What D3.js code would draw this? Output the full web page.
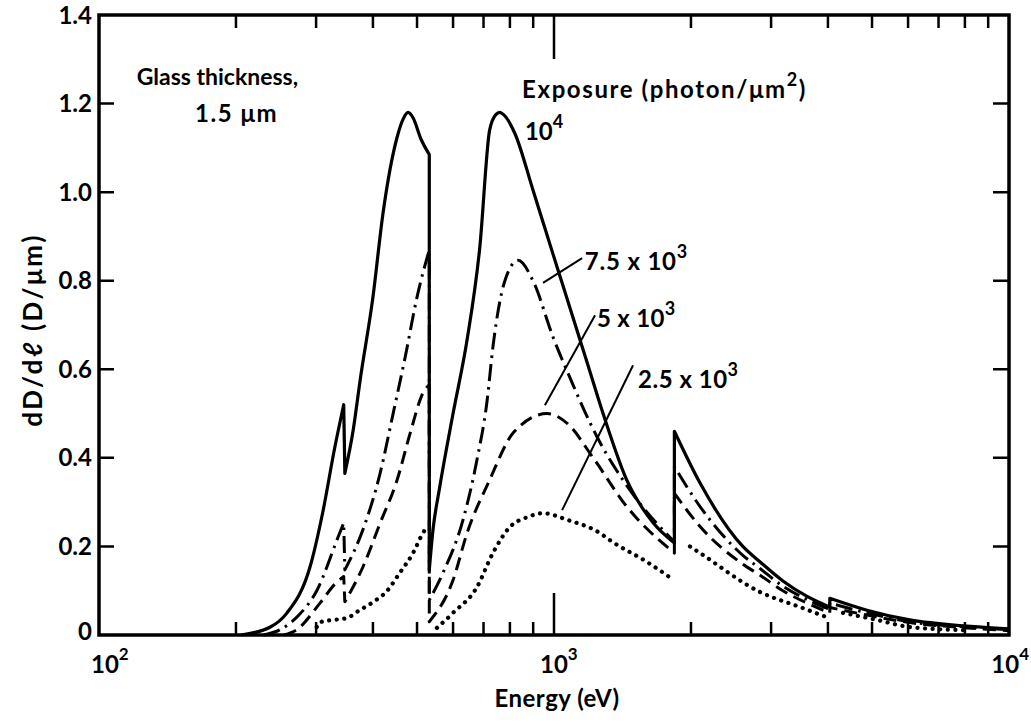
<!DOCTYPE html>
<html lang="en-US">
<head>
<meta charset="utf-8">
<script src="https://d3js.org/d3.v7.min.js"></script>
<style>
  body { margin: 0; background: #fff; }
  svg text { font-family: Lato, "DejaVu Sans", sans-serif; font-weight: bold; fill: #000; }
</style>
</head>
<body>
<svg width="1031" height="725"></svg>
<script>
// dD/dl vs photon energy (eV); each series split into segments at the absorption edges
// [energy eV, dD/dl]
var exp1e4 = [
  [[205,0],[238,0.018],[259,0.05],[291,0.154],[310,0.275],[330,0.425],[345,0.52]],
  [[347,0.365],[362,0.463],[375,0.576],[400,0.763],[421,0.953],[452,1.124],[466,1.165],[478,1.18],[490,1.168],[510,1.12],[532,1.085]],
  [[532,0.147],[542,0.237],[560,0.33],[600,0.5],[644,0.666],[687,0.876],[722,1.14],[745,1.175],[760,1.18],[775,1.175],[820,1.133],[899,1.005],[995,0.86],[1042,0.795],[1182,0.616],[1282,0.5],[1445,0.35],[1653,0.253],[1839,0.208]],
  [[1839,0.46],[2094,0.343],[2600,0.2],[2838,0.165],[3185,0.122],[3600,0.087],[4038,0.063]],
  [[4038,0.083],[4875,0.056],[6050,0.034],[8080,0.02],[10000,0.014]]
];
var exp75e3 = [
  [[230,0],[250,0.012],[275,0.045],[301,0.1],[335,0.22],[345,0.253]],
  [[347,0.147],[380,0.237],[415,0.366],[443,0.5],[471,0.628],[500,0.763],[532,0.87]],
  [[532,0.079],[570,0.14],[631,0.26],[677,0.395],[713,0.53],[734,0.65],[780,0.8],[834,0.846],[899,0.8],[995,0.673],[1101,0.565],[1199,0.48],[1244,0.447],[1469,0.327],[1839,0.21]],
  [[1839,0.38],[2094,0.29],[2600,0.18],[2838,0.15],[3185,0.11],[3600,0.08],[4038,0.058]],
  [[4038,0.072],[4875,0.05],[6050,0.03],[8080,0.018],[10000,0.012]]
];
var exp5e3 = [
  [[255,0],[272,0.012],[306,0.072],[330,0.115],[345,0.132]],
  [[347,0.075],[380,0.153],[415,0.253],[452,0.35],[483,0.456],[515,0.546],[532,0.565]],
  [[532,0.03],[600,0.124],[644,0.23],[722,0.35],[813,0.456],[966,0.5],[1069,0.478],[1219,0.4],[1445,0.29],[1839,0.185]],
  [[1839,0.32],[2094,0.245],[2600,0.16],[2838,0.135],[3185,0.1],[3600,0.072],[4038,0.05]],
  [[4038,0.062],[4875,0.045],[6050,0.028],[8080,0.016],[10000,0.01]]
];
var exp25e3 = [
  [[301,0.018],[306,0.029],[327,0.034],[350,0.038],[374,0.056],[400,0.074],[430,0.1],[458,0.14],[490,0.185],[515,0.23],[529,0.248]],
  [[553,0.016],[600,0.05],[677,0.108],[734,0.185],[800,0.244],[873,0.266],[946,0.275],[1069,0.26],[1262,0.23],[1327,0.214],[1600,0.165],[1799,0.13]],
  [[1990,0.2],[2094,0.185],[2838,0.097],[3474,0.063],[3981,0.04]],
  [[4316,0.05],[5130,0.034],[6050,0.018],[7925,0.011]]
];

var xMinor = [200,300,400,500,600,700,800,900,2000,3000,4000,5000,6000,7000,8000,9000];
var xMajor = [100,1000,10000];
var yTicks = [0,0.2,0.4,0.6,0.8,1.0,1.2,1.4];
var yInner = [0.2,0.4,0.6,0.8,1.0,1.2];

var svg = d3.select("svg");
var x = d3.scaleLog().domain([100,10000]).range([99,1009]);
var y = d3.scaleLinear().domain([0,1.4]).range([635,15]);
var x0 = x.range()[0], x1 = x.range()[1], y0 = y.range()[0], y1 = y.range()[1];

// inward ticks on all four sides, as one path
var tickPath = [];
xMinor.forEach(v => { tickPath.push("M" + x(v) + "," + y0 + "v-13", "M" + x(v) + "," + y1 + "v13"); });
tickPath.push("M" + x(1000) + "," + y0 + "v-42", "M" + x(1000) + "," + y1 + "v44");
yInner.forEach(v => { tickPath.push("M" + x0 + "," + y(v) + "h15", "M" + x1 + "," + y(v) + "h-16"); });
svg.append("path").attr("d", tickPath.join(""))
    .attr("fill","none").attr("stroke","#000").attr("stroke-width",2.5);

// y tick labels
svg.append("g").selectAll("text").data(yTicks).enter().append("text")
    .attr("x", x0 - 7).attr("y", d => y(d)).attr("dy", d => d === 0 ? "0.2em" : "0.36em")
    .attr("text-anchor","end").attr("font-size",24)
    .text(d => d === 0 ? "0" : d.toFixed(1));

// frame
svg.append("rect").attr("x",x0).attr("y",y1).attr("width",x1 - x0).attr("height",y0 - y1)
    .attr("fill","none").attr("stroke","#000").attr("stroke-width",3.5);

// x tick labels 10^n
xMajor.forEach(function(v, i) {
    var t = svg.append("text").attr("y", 673).attr("font-size",24);
    if (i === xMajor.length - 1) t.attr("x", 1029).attr("text-anchor","end");
    else t.attr("x", x(v) - (i === 0 ? 8 : 14));
    t.append("tspan").text("10");
    t.append("tspan").attr("dy",-13).attr("font-size",17).text(Math.log10(v));
});

// curves
var line = d3.line().x(d => x(d[0])).y(d => y(d[1])).curve(d3.curveMonotoneX);
function pathOf(segs, joined) {
    return segs.map(function(s, i) {
        var p = line(s);
        return (i > 0 && joined) ? "L" + p.slice(1) : p;
    }).join("");
}
var series = [
    {data: exp1e4, joined: true, dash: null, w: 3.2, cap: "butt"},
    {data: exp75e3, joined: true, dash: "17,6,2.5,6", w: 3, cap: "butt"},
    {data: exp5e3, joined: true, dash: "13,7", w: 3, cap: "butt"},
    {data: exp25e3, joined: false, dash: "0.1,7.5", w: 4.2, cap: "round"}
];
svg.append("g").selectAll("path").data(series).enter().append("path")
    .attr("d", d => pathOf(d.data, d.joined))
    .attr("fill","none").attr("stroke","#000")
    .attr("stroke-width", d => d.w)
    .attr("stroke-dasharray", d => d.dash)
    .attr("stroke-linecap", d => d.cap)
    .attr("stroke-linejoin","round");

// leader lines for exposure labels
var leaders = [
    [[946,0.795],[1153,0.851]],
    [[955,0.519],[1231,0.722]],
    [[1042,0.282],[1492,0.609]]
];
svg.append("g").selectAll("line").data(leaders).enter().append("line")
    .attr("x1", d => x(d[0][0])).attr("y1", d => y(d[0][1]))
    .attr("x2", d => x(d[1][0])).attr("y2", d => y(d[1][1]))
    .attr("stroke","#000").attr("stroke-width",2);

// labels with superscripts
function label(e, v, base, sup, size, spacing) {
    var t = svg.append("text").attr("x", x(e)).attr("y", y(v))
        .attr("font-size", size || 24).attr("letter-spacing", spacing || 0);
    t.append("tspan").text(base);
    if (sup) t.append("tspan").attr("dy",-12).attr("font-size",18).text(sup);
    return t;
}
label(851, 1.212, "Exposure (photon/\u03bcm", "2", 24, 1.6).append("tspan").attr("dy",12).text(")");
label(863, 1.117, "10", "4");
label(1169, 0.824, "7.5 x 10", "3", 24, 0.8);
label(1243, 0.695, "5 x 10", "3", 24, 0.3);
label(1530, 0.558, "2.5 x 10", "3", 24, 0.5);
svg.append("circle").attr("cx", x(1775)).attr("cy", y(0.578)).attr("r",1.7).attr("fill","#000");
label(121, 1.242, "Glass thickness,", null, 23, 0);
label(162.6, 1.158, "1.5 \u03bcm", null, 24, 1.5);

// axis titles
svg.append("text").attr("x",557).attr("y",707).attr("text-anchor","middle").attr("font-size",24)
    .attr("letter-spacing",0.5).text("Energy (eV)");
svg.append("text").attr("transform","translate(42,330) rotate(-90)").attr("text-anchor","middle")
    .attr("font-size",26).attr("letter-spacing",2.5).text("dD/d\u2113 (D/\u03bcm)");
</script>
</body>
</html>
